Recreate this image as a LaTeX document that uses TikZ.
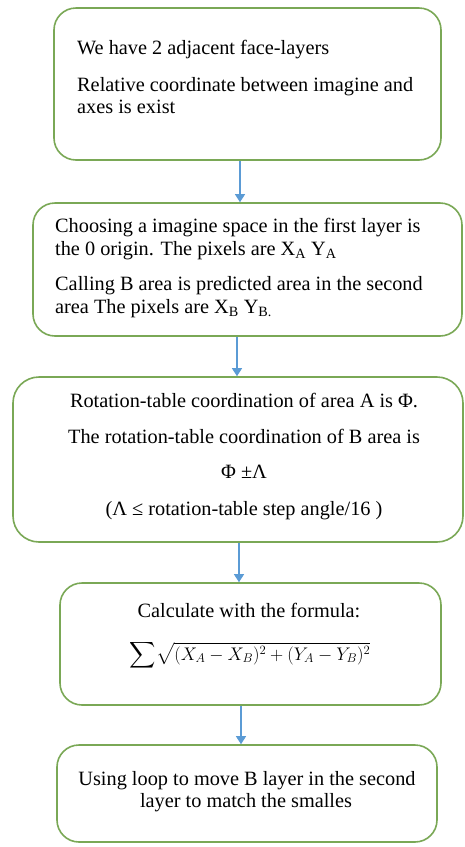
\documentclass[tikz,border=0pt]{standalone}
\usepackage{amsmath}
\usepackage{exscale}
\usepackage{graphicx}
\usepackage{fontspec}
\setmainfont{Liberation Serif}
\usetikzlibrary{arrows.meta}
\definecolor{boxgreen}{RGB}{122,168,86}
\definecolor{arrowblue}{RGB}{91,155,213}
\tikzset{
  flowbox/.style={draw=boxgreen, line width=1.6pt, fill=white, rectangle, rounded corners=22pt, inner sep=0pt},
  flowarrow/.style={draw=arrowblue, line width=1.1pt, -{Triangle[width=10pt,length=8pt]}, arrowblue},
  txt/.style={inner sep=0pt, font=\fontsize{20.3}{23}\selectfont},
}
\begin{document}
\begin{tikzpicture}[x=1pt,y=-1pt]
\useasboundingbox (0,0) rectangle (465,847);
% boxes
\node[flowbox, minimum width=387pt, minimum height=152pt] (b1) at (247.5,84) {};
\node[flowbox, minimum width=429pt, minimum height=133pt] (b2) at (247.5,269.5) {};
\node[flowbox, rounded corners=26pt, minimum width=450pt, minimum height=165pt] (b3) at (238,459.5) {};
\node[flowbox, minimum width=381pt, minimum height=122pt] (b4) at (250.5,644) {};
\node[flowbox, minimum width=380pt, minimum height=97pt] (b5) at (247,793.5) {};
% box 1 text
\node[txt, anchor=base west] (t11) at (77,54) {We have 2 adjacent face-layers};
\node[txt, anchor=base west] (t12) at (77,91) {Relative coordinate between imagine and};
\node[txt, anchor=base west] (t13) at (77,113) {axes is exist};
% box 2 text
\node[txt, anchor=base west] (t21) at (55,232) {Choosing a imagine space in the first layer is};
\node[txt, anchor=base west] (t22) at (55,255) {the 0 origin. The pixels are X\textsubscript{A} Y\textsubscript{A}};
\node[txt, anchor=base west] (t23) at (55,290) {Calling B area is predicted area in the second};
\node[txt, anchor=base west] (t24) at (55,313) {area The pixels are X\textsubscript{B} Y\textsubscript{B.}};
% box 3 text
\node[txt, anchor=base] (t31) at (244,407) {Rotation-table coordination of area A is Φ.};
\node[txt, anchor=base] (t32) at (244,443) {The rotation-table coordination of B area is};
\node[txt, anchor=base] (t33) at (244,478) {Φ ±Λ};
\node[txt, anchor=base] (t34) at (244,515) {(Λ ≤ rotation-table step angle/16 )};
% box 4 text
\node[txt, anchor=base] (t41) at (249,617) {Calculate with the formula:};
\node[txt, anchor=base] (t42) at (250,660) {\scalebox{0.88}{$\displaystyle\sum\!\sqrt{(X_A-X_B)^2+(Y_A-Y_B)^2}$}};
% box 5 text
\node[txt, anchor=base] (t51) at (247,785) {Using loop to move B layer in the second};
\node[txt, anchor=base] (t52) at (246,807) {layer to match the smalles};
% connectors
\coordinate (a1) at (240,0);
\coordinate (a2) at (237,0);
\coordinate (a3) at (239,0);
\coordinate (a4) at (241,0);
\draw[flowarrow] (b1.south -| a1) -- (b2.north -| a1);
\draw[flowarrow] (b2.south -| a2) -- (b3.north -| a2);
\draw[flowarrow] (b3.south -| a3) -- (b4.north -| a3);
\draw[flowarrow] (b4.south -| a4) -- (b5.north -| a4);
\end{tikzpicture}
\end{document}
